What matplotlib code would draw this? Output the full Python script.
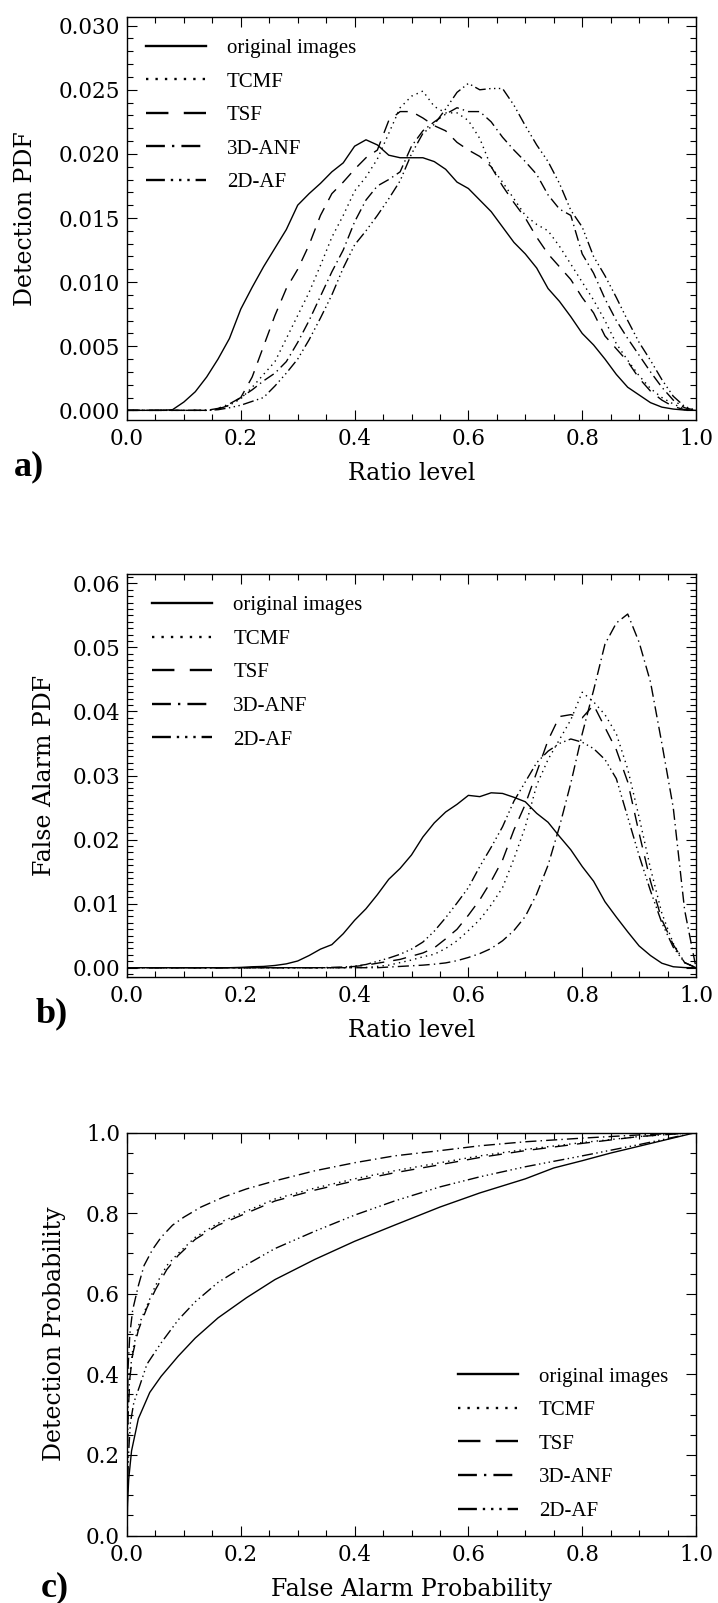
import numpy as np
import matplotlib
matplotlib.use("Agg")
import matplotlib.pyplot as plt
from matplotlib.ticker import MultipleLocator, FormatStrFormatter

# ---- data -------------------------------------------------------------
methods = ["original images", "TCMF", "TSF", "3D-ANF", "2D-AF"]

# ratio-level bins (0.02 wide) shared by panels a) and b)
ratio_level = np.linspace(0.0, 1.0, 51)

# a) detection PDF, values in units of 1e-3
det_orig = [0, 0, 0, 0, 0.05, 0.65, 1.45, 2.6, 4.0, 5.6, 7.9, 9.6, 11.2, 12.65, 14.1,
            16.0, 16.9, 17.7, 18.6, 19.3, 20.6, 21.1, 20.7, 19.9, 19.7, 19.7, 19.7,
            19.4, 18.8, 17.8, 17.3, 16.4, 15.5, 14.3, 13.1, 12.2, 11.1, 9.5, 8.5, 7.3,
            6.0, 5.1, 4.0, 2.8, 1.8, 1.2, 0.6, 0.25, 0.1, 0.02, 0]
det_tcmf = [0, 0, 0, 0, 0, 0, 0, 0, 0.1, 0.4, 0.9, 1.8, 2.8, 3.8, 5.6, 7.4, 9.2,
            11.3, 13.5, 15.2, 17.1, 18.2, 19.6, 21.6, 23.6, 24.5, 24.9, 23.7, 23.2,
            23.2, 22.6, 21.2, 19.0, 17.8, 16.5, 15.2, 14.5, 14.0, 12.8, 11.4, 10.0,
            8.6, 7.0, 5.2, 3.9, 2.7, 1.7, 1.0, 0.5, 0.1, 0]
det_tsf = [0, 0, 0, 0, 0, 0, 0, 0, 0.1, 0.4, 1.0, 2.6, 5.0, 7.4, 9.5, 11.0, 12.9,
           15.2, 16.9, 17.8, 18.8, 19.7, 20.3, 22.6, 23.3, 23.3, 22.8, 22.2, 21.8,
           20.9, 20.3, 19.8, 19.0, 17.5, 16.2, 15.0, 13.5, 12.2, 11.2, 10.2, 8.8,
           7.6, 5.8, 4.8, 3.8, 2.5, 1.5, 0.8, 0.3, 0.05, 0]
det_anf = [0, 0, 0, 0, 0, 0, 0, 0, 0.15, 0.5, 1.0, 1.6, 2.3, 2.9, 3.8, 5.3, 7.0,
           8.9, 10.8, 12.5, 14.7, 16.4, 17.5, 18.0, 18.6, 20.6, 21.8, 22.5, 23.1,
           23.6, 23.3, 23.3, 22.5, 21.3, 20.3, 19.4, 18.4, 16.8, 15.7, 15.2, 12.2,
           10.7, 8.7, 7.0, 5.6, 4.3, 3.0, 1.8, 0.8, 0.2, 0]
det_af = [0, 0, 0, 0, 0, 0, 0, 0, 0.05, 0.2, 0.4, 0.7, 1.0, 1.9, 2.9, 4.0, 5.5,
          7.2, 9.0, 11.1, 12.9, 14.0, 15.2, 16.5, 17.9, 20.0, 21.6, 22.3, 23.5,
          24.8, 25.5, 25.0, 25.1, 25.1, 23.8, 22.2, 20.7, 19.4, 17.7, 15.6, 14.3,
          12.0, 10.5, 8.8, 7.0, 5.3, 3.9, 2.4, 1.1, 0.3, 0]

# b) false alarm PDF, values in units of 1e-3
fa_orig = [0, 0, 0, 0, 0, 0, 0, 0, 0, 0, 0.05, 0.15, 0.2, 0.35, 0.6, 1.05, 1.9,
           2.9, 3.6, 5.3, 7.4, 9.2, 11.4, 13.8, 15.5, 17.6, 20.4, 22.6, 24.3, 25.5,
           26.9, 26.7, 27.3, 27.2, 26.6, 25.9, 24.1, 22.7, 20.5, 18.4, 15.8, 13.5,
           10.3, 7.9, 5.6, 3.4, 1.9, 0.7, 0.15, 0.02, 0]
fa_tcmf = [0, 0, 0, 0, 0, 0, 0, 0, 0, 0, 0, 0, 0, 0, 0, 0, 0, 0, 0, 0, 0, 0.05,
           0.2, 0.4, 0.8, 1.2, 1.7, 2.1, 3.0, 4.2, 5.8, 7.5, 9.8, 12.5, 17.0, 22.0,
           28.5, 32.5, 35.6, 38.7, 43.0, 41.5, 39.5, 36.5, 31.0, 23.5, 15.5, 8.5,
           3.8, 0.8, 0]
fa_tsf = [0, 0, 0, 0, 0, 0, 0, 0, 0, 0, 0, 0, 0, 0, 0, 0, 0, 0, 0, 0.05, 0.2,
          0.4, 0.7, 1.0, 1.3, 1.8, 2.3, 3.1, 4.5, 6.0, 8.2, 10.6, 13.5, 16.8, 21.5,
          25.5, 30.5, 35.5, 39.2, 39.5, 39.0, 41.0, 37.5, 34.0, 29.0, 21.0, 13.5,
          7.5, 3.6, 0.8, 0]
fa_anf = [0, 0, 0, 0, 0, 0, 0, 0, 0, 0, 0, 0, 0, 0, 0, 0, 0, 0, 0, 0, 0, 0, 0,
          0.1, 0.2, 0.3, 0.4, 0.55, 0.75, 1.1, 1.6, 2.2, 3.0, 4.2, 5.8, 8.0, 11.5,
          16.0, 22.0, 28.8, 36.5, 43.3, 50.5, 53.8, 55.2, 50.8, 44.6, 35.0, 25.0,
          9.0, 0]
fa_af = [0, 0, 0, 0, 0, 0, 0, 0, 0, 0, 0, 0, 0, 0, 0, 0, 0, 0, 0.05, 0.1, 0.25,
         0.5, 1.0, 1.5, 2.1, 2.9, 4.0, 5.7, 7.8, 10.1, 12.5, 15.8, 18.8, 22.0,
         26.0, 29.0, 32.0, 33.8, 35.0, 35.7, 35.2, 34.2, 32.5, 29.5, 23.5, 17.5,
         12.0, 7.0, 3.2, 0.8, 0]

# c) ROC curves: false alarm probability -> detection probability
roc_orig_pfa = [0, 0.001, 0.003, 0.008, 0.02, 0.04, 0.06, 0.09, 0.12, 0.16, 0.21,
                0.26, 0.33, 0.40, 0.47, 0.55, 0.62, 0.70, 0.75, 0.80, 0.85, 0.90,
                0.95, 1.0]
roc_orig_pd = [0, 0.08, 0.14, 0.21, 0.29, 0.355, 0.395, 0.445, 0.49, 0.54, 0.59,
               0.635, 0.685, 0.73, 0.77, 0.815, 0.85, 0.885, 0.912, 0.93, 0.949,
               0.966, 0.983, 1.0]
roc_tcmf_pfa = [0, 0.0005, 0.002, 0.005, 0.01, 0.02, 0.035, 0.05, 0.07, 0.09, 0.12,
                0.16, 0.21, 0.26, 0.33, 0.40, 0.47, 0.55, 0.62, 0.70, 0.80, 0.90, 1.0]
roc_tcmf_pd = [0, 0.2, 0.32, 0.40, 0.46, 0.52, 0.57, 0.62, 0.67, 0.70, 0.74,
               0.775, 0.805, 0.835, 0.862, 0.885, 0.905, 0.925, 0.942, 0.958,
               0.975, 0.99, 1.0]
roc_tsf_pfa = [0, 0.0005, 0.002, 0.005, 0.01, 0.02, 0.035, 0.05, 0.07, 0.09, 0.12,
               0.16, 0.21, 0.26, 0.33, 0.40, 0.47, 0.55, 0.62, 0.70, 0.80, 0.90, 1.0]
roc_tsf_pd = [0, 0.18, 0.30, 0.39, 0.45, 0.51, 0.565, 0.61, 0.66, 0.695, 0.735,
              0.77, 0.80, 0.83, 0.857, 0.88, 0.90, 0.92, 0.938, 0.955, 0.973,
              0.99, 1.0]
roc_anf_pfa = [0, 0.0005, 0.002, 0.005, 0.01, 0.02, 0.03, 0.045, 0.06, 0.08, 0.10,
               0.13, 0.17, 0.21, 0.26, 0.33, 0.40, 0.47, 0.55, 0.62, 0.70, 0.80,
               0.90, 1.0]
roc_anf_pd = [0, 0.3, 0.42, 0.50, 0.56, 0.62, 0.67, 0.71, 0.74, 0.77, 0.79, 0.815,
              0.84, 0.86, 0.88, 0.905, 0.925, 0.942, 0.955, 0.967, 0.977, 0.986,
              0.994, 1.0]
roc_af_pfa = [0, 0.001, 0.003, 0.006, 0.012, 0.022, 0.035, 0.06, 0.09, 0.12, 0.16,
              0.21, 0.26, 0.33, 0.40, 0.47, 0.55, 0.62, 0.70, 0.80, 0.90, 1.0]
roc_af_pd = [0, 0.12, 0.21, 0.28, 0.33, 0.37, 0.425, 0.478, 0.535, 0.58, 0.628,
             0.672, 0.712, 0.755, 0.795, 0.83, 0.865, 0.89, 0.915, 0.942, 0.97, 1.0]

# ---- styling ----------------------------------------------------------
line_styles = {
    "original images": "-",
    "TCMF": (0, (1, 3)),
    "TSF": (0, (9.5, 6.5)),
    "3D-ANF": (0, (8, 3, 1, 3)),
    "2D-AF": (0, (8, 2.5, 1, 2.5, 1, 2.5, 1, 2.5)),
}
TICK_FONT = dict(family="DejaVu Serif", size=15.5)
LABEL_FONT = dict(family="DejaVu Serif", size=17)
LEG_FONT = dict(family="Liberation Serif", size=15)

plt.rcParams["font.family"] = "DejaVu Serif"

W, H = 718, 1603
fig = plt.figure(figsize=(W / 100, H / 100), dpi=100)


def make_axes(top_px):
    return fig.add_axes([127 / W, 1 - (top_px + 403) / H, 569 / W, 403 / H])


def style_axes(ax, ymajor, yminor, yfmt, ylim):
    ax.set_xlim(0, 1)
    ax.set_ylim(*ylim)
    ax.xaxis.set_major_locator(MultipleLocator(0.2))
    ax.xaxis.set_minor_locator(MultipleLocator(0.05))
    ax.yaxis.set_major_locator(MultipleLocator(ymajor))
    ax.yaxis.set_minor_locator(MultipleLocator(yminor))
    ax.xaxis.set_major_formatter(FormatStrFormatter("%.1f"))
    ax.yaxis.set_major_formatter(FormatStrFormatter(yfmt))
    ax.tick_params(which="both", direction="in", top=True, right=True, width=0.8)
    ax.tick_params(which="major", length=7.5)
    ax.tick_params(which="minor", length=4)
    ax.tick_params(axis="x", pad=6)
    ax.tick_params(axis="y", pad=5)
    for lab in ax.get_xticklabels() + ax.get_yticklabels():
        lab.set_fontfamily(TICK_FONT["family"])
        lab.set_fontsize(TICK_FONT["size"])
    for s in ax.spines.values():
        s.set_linewidth(1.0)


def add_legend(ax, x0, y0):
    leg = ax.legend(loc="upper left", bbox_to_anchor=(x0, y0), frameon=False,
                    prop=LEG_FONT, handlelength=2.9, handletextpad=1.0,
                    labelspacing=0.67, borderpad=0, borderaxespad=0)
    for ln in leg.get_lines():
        ln.set_linewidth(1.7)


# a) detection PDF
ax_a = make_axes(16.7)
for name, vals in zip(methods, [det_orig, det_tcmf, det_tsf, det_anf, det_af]):
    ax_a.plot(ratio_level, np.array(vals) * 1e-3, color="black", lw=1.0,
              linestyle=line_styles[name], label=name)
style_axes(ax_a, 0.005, 0.001, "%.3f", (-0.00073, 0.0307))
ax_a.set_xlabel("Ratio level", **LABEL_FONT)
ax_a.set_ylabel("Detection PDF", **LABEL_FONT)
ax_a.xaxis.set_label_coords(0.5, -0.105)
ax_a.yaxis.set_label_coords(-0.158, 0.5)
add_legend(ax_a, 0.033, 0.946)

# b) false alarm PDF
ax_b = make_axes(574)
for name, vals in zip(methods, [fa_orig, fa_tcmf, fa_tsf, fa_anf, fa_af]):
    ax_b.plot(ratio_level, np.array(vals) * 1e-3, color="black", lw=1.0,
              linestyle=line_styles[name], label=name)
style_axes(ax_b, 0.01, 0.001, "%.2f", (-0.00145, 0.06145))
ax_b.set_xlabel("Ratio level", **LABEL_FONT)
ax_b.set_ylabel("False Alarm PDF", **LABEL_FONT)
ax_b.xaxis.set_label_coords(0.5, -0.105)
ax_b.yaxis.set_label_coords(-0.125, 0.5)
add_legend(ax_b, 0.044, 0.946)

# c) ROC
ax_c = make_axes(1132.5)
roc = [(roc_orig_pfa, roc_orig_pd), (roc_tcmf_pfa, roc_tcmf_pd),
       (roc_tsf_pfa, roc_tsf_pd), (roc_anf_pfa, roc_anf_pd), (roc_af_pfa, roc_af_pd)]
for name, (px, py) in zip(methods, roc):
    ax_c.plot(px, py, color="black", lw=1.0, linestyle=line_styles[name], label=name)
style_axes(ax_c, 0.2, 0.05, "%.1f", (0, 1))
ax_c.set_xlabel("False Alarm Probability", **LABEL_FONT)
ax_c.set_ylabel("Detection Probability", **LABEL_FONT)
ax_c.xaxis.set_label_coords(0.5, -0.105)
ax_c.yaxis.set_label_coords(-0.107, 0.5)
add_legend(ax_c, 0.581, 0.418)

# panel letters
for txt, (xp, yp) in zip(["a)", "b)", "c)"], [(29, 467), (52, 1014), (55, 1588)]):
    fig.text(xp / W, 1 - yp / H, txt, ha="center", va="center",
             family="Liberation Serif", weight="bold", size=26)

fig.savefig("out.png", dpi=100)
